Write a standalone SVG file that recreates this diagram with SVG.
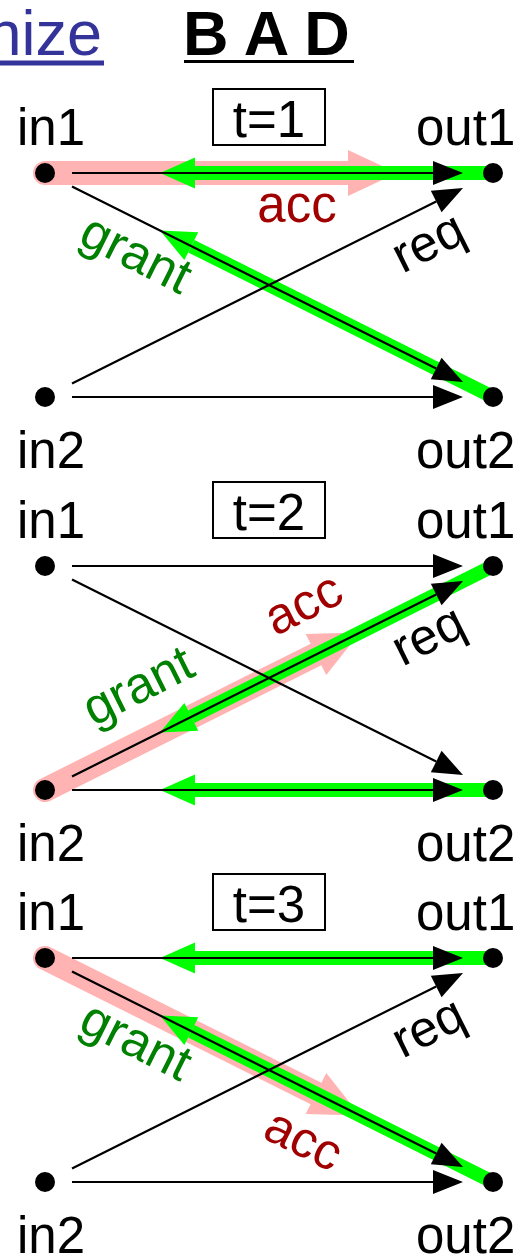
<svg xmlns="http://www.w3.org/2000/svg" width="514" height="1255" viewBox="0 0 514 1255">
<style>
text{font-family:"Liberation Sans",Arial,sans-serif;font-size:51px}
.lbl{fill:#000}
.acc{fill:#a00000}
.grant{fill:#008000}
.req{fill:#000}
.mid{text-anchor:middle}
.blk{stroke:#000;stroke-width:2.2;fill:none;marker-end:url(#ab)}
.pk{stroke:#ffb3b3;stroke-width:24;stroke-linecap:round;fill:none;marker-end:url(#ap)}
.gr{stroke:#00ff00;stroke-width:14;fill:none;marker-end:url(#ag)}
.box{fill:#fff;stroke:#000;stroke-width:2}
.dot{fill:#000}
</style>
<defs>
<marker id="ab" markerUnits="userSpaceOnUse" viewBox="0 -12 30 24" markerWidth="30" markerHeight="24" refX="0" refY="0" orient="auto" overflow="visible"><path d="M0,-12 L30,0 L0,12 z" fill="#000"/></marker>
<marker id="ap" markerUnits="userSpaceOnUse" viewBox="0 -23 49 46" markerWidth="49" markerHeight="46" refX="0" refY="0" orient="auto" overflow="visible"><path d="M0,-23 L49,0 L0,23 z" fill="#ffb3b3"/></marker>
<marker id="ag" markerUnits="userSpaceOnUse" viewBox="0 -15.5 35 31" markerWidth="35" markerHeight="31" refX="0" refY="0" orient="auto" overflow="visible"><path d="M0,-15.5 L35,0 L0,15.5 z" fill="#00ff00"/></marker>
</defs>
<g id="title">
<text x="102" y="55" style="font-size:63px;fill:#333399;text-anchor:end">nize</text>
<line x1="0" y1="63" x2="104" y2="63" stroke="#333399" stroke-width="5"/>
<text x="183" y="55" style="font-size:63px;font-weight:bold">B A D</text>
<line x1="184" y1="61.5" x2="354" y2="61.5" stroke="#000" stroke-width="3"/>
</g>
<g id="connectors">
<!-- panel 1 -->
<path class="pk" d="M45,173 L348,173"/>
<path class="gr" d="M493,173 L195,173"/>
<path class="gr" d="M493,397 L191.3,246.2"/>
<path class="blk" d="M72,173 L433,173"/>
<path class="blk" d="M72,186.5 L436.2,368.6"/>
<path class="blk" d="M72,383.5 L436.2,201.4"/>
<path class="blk" d="M72,397 L433,397"/>
<!-- panel 2 -->
<path class="pk" d="M45,790 L316,654.5"/>
<path class="gr" d="M493,566 L191.3,716.8"/>
<path class="gr" d="M493,790 L195,790"/>
<path class="blk" d="M72,566 L433,566"/>
<path class="blk" d="M72,579.5 L436.2,761.6"/>
<path class="blk" d="M72,776.5 L436.2,594.4"/>
<path class="blk" d="M72,790 L433,790"/>
<!-- panel 3 -->
<path class="pk" d="M45,958 L316,1093.5"/>
<path class="gr" d="M493,958 L195,958"/>
<path class="gr" d="M493,1182 L191.3,1031.2"/>
<path class="blk" d="M72,958 L433,958"/>
<path class="blk" d="M72,971.5 L436.2,1153.6"/>
<path class="blk" d="M72,1168.5 L436.2,986.4"/>
<path class="blk" d="M72,1182 L433,1182"/>
<!-- labels -->
<text class="acc mid" x="297" y="222">acc</text>
<text class="grant mid" transform="translate(134,258) rotate(26.57)" y="12">grant</text>
<text class="req mid" transform="translate(432,250) rotate(-26.57)" y="8">req</text>
<text class="acc mid" transform="translate(305,607) rotate(-26.57)" y="13">acc</text>
<text class="grant mid" transform="translate(140,690) rotate(-26.57)" y="12">grant</text>
<text class="req mid" transform="translate(432,643) rotate(-26.57)" y="8">req</text>
<text class="grant mid" transform="translate(134,1045) rotate(26.57)" y="12">grant</text>
<text class="req mid" transform="translate(432,1035) rotate(-26.57)" y="8">req</text>
<text class="acc mid" transform="translate(302,1143) rotate(26.57)" y="13">acc</text>
</g>
<g id="t1"><rect class="box" x="213" y="89" width="112" height="56"/><text class="mid" x="269" y="137">t=1</text></g>
<g id="t2"><rect class="box" x="213" y="482" width="112" height="56"/><text class="mid" x="269" y="530">t=2</text></g>
<g id="t3"><rect class="box" x="213" y="874" width="112" height="56"/><text class="mid" x="269" y="922">t=3</text></g>
<g id="p1-in1"><circle class="dot" cx="45" cy="173" r="10"/><text x="17" y="145">in1</text></g>
<g id="p1-out1"><circle class="dot" cx="493" cy="173" r="10"/><text x="416" y="145">out1</text></g>
<g id="p1-in2"><circle class="dot" cx="45" cy="397" r="10"/><text x="17" y="468">in2</text></g>
<g id="p1-out2"><circle class="dot" cx="493" cy="397" r="10"/><text x="416" y="468">out2</text></g>
<g id="p2-in1"><circle class="dot" cx="45" cy="566" r="10"/><text x="17" y="538">in1</text></g>
<g id="p2-out1"><circle class="dot" cx="493" cy="566" r="10"/><text x="416" y="538">out1</text></g>
<g id="p2-in2"><circle class="dot" cx="45" cy="790" r="10"/><text x="17" y="861">in2</text></g>
<g id="p2-out2"><circle class="dot" cx="493" cy="790" r="10"/><text x="416" y="861">out2</text></g>
<g id="p3-in1"><circle class="dot" cx="45" cy="958" r="10"/><text x="17" y="930">in1</text></g>
<g id="p3-out1"><circle class="dot" cx="493" cy="958" r="10"/><text x="416" y="930">out1</text></g>
<g id="p3-in2"><circle class="dot" cx="45" cy="1182" r="10"/><text x="17" y="1253">in2</text></g>
<g id="p3-out2"><circle class="dot" cx="493" cy="1182" r="10"/><text x="416" y="1253">out2</text></g>
</svg>
